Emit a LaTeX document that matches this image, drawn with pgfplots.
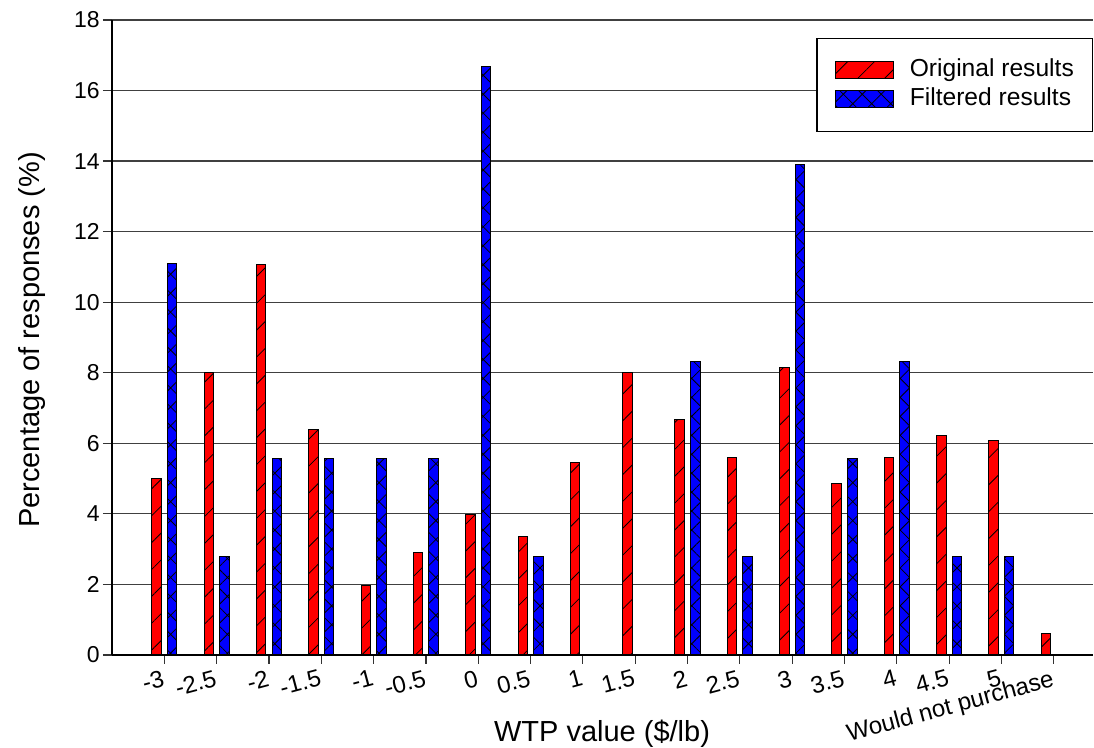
\documentclass[border=0pt]{standalone}
\usepackage{fontspec}
\setmainfont{Liberation Sans}
\usepackage{pgfplots}
\pgfplotsset{compat=1.18}
\usetikzlibrary{patterns.meta}

\definecolor{barred}{RGB}{255,0,0}
\definecolor{barblue}{RGB}{0,0,255}

\begin{document}
\begin{tikzpicture}
\useasboundingbox (-56pt,-46.5pt) rectangle (491pt,327.5pt);
\begin{axis}[
  scale only axis,
  width=490.5pt, height=317.5pt,
  ybar=3.05pt, bar width=4.75pt,
  xmin=-1, xmax=17.75,
  ymin=0, ymax=18,
  ytick={0,2,...,18},
  xtick={0,...,17},
  xticklabels={-3,-2.5,-2,-1.5,-1,-0.5,0,0.5,1,1.5,2,2.5,3,3.5,4,4.5,5,{\raisebox{-3pt}{Would not purchase}}},
  axis x line*=bottom, axis y line*=left,
  x axis line style={-, black, line width=0.8pt},
  y axis line style={-, black, line width=0.8pt},
  tick align=outside,
  major tick length=4.5pt,
  major tick style={black!80, line width=0.6pt},
  ymajorgrids,
  major grid style={black!75, line width=0.6pt},
  /pgf/number format/assume math mode=true,
  xticklabel style={rotate=15, anchor=north east, font=\fontsize{12}{14}\selectfont, inner sep=2pt},
  yticklabel style={font=\fontsize{11.5}{13}\selectfont, inner xsep=1.5pt},
  xlabel={WTP value (\$/lb)},
  ylabel={Percentage of responses (\%)},
  xlabel style={at={(axis description cs:0.4995,-0.124)}, anchor=center, font=\fontsize{14.5}{17}\selectfont},
  ylabel style={at={(axis description cs:-0.0815,0.496)}, anchor=center, font=\fontsize{14.5}{17}\selectfont},
  legend image code/.code={\draw[#1] (0pt,-4.25pt) rectangle (29pt,4.25pt);},
  legend cell align=left,
  legend style={at={(1,0.9724)}, anchor=north east, draw=black, line width=0.75pt, fill=white,
    font=\fontsize{12.3}{14}\selectfont, inner xsep=9.2pt, inner ysep=10pt,
    row sep=2.5pt, column sep=7.75pt,
    nodes={inner sep=0pt, text height=9pt, text depth=3pt}},
]
% original results
\addplot[fill=barred, draw=black, line width=0.5pt,
  postaction={pattern={Lines[angle=45,distance=9.5pt,line width=0.4pt]}}]
  coordinates {
  (0,5.00) (1,8.02) (2,11.08) (3,6.40) (4,1.98) (5,2.90) (6,3.99) (7,3.35)
  (8,5.46) (9,8.02) (10,6.67) (11,5.60) (12,8.16) (13,4.86) (14,5.60)
  (15,6.21) (16,6.07) (17,0.62)
};
% filtered results (no bar where the share is zero)
\addplot[fill=barblue, draw=black, line width=0.5pt,
  postaction={pattern={Hatch[angle=45,distance=6.7pt,line width=0.4pt]}}]
  coordinates {
  (0,11.11) (1,2.78) (2,5.56) (3,5.56) (4,5.56) (5,5.56) (6,16.67) (7,2.78)
  (10,8.33) (11,2.78) (12,13.89) (13,5.56) (14,8.33) (15,2.78) (16,2.78)
};
\legend{Original results, Filtered results}
\end{axis}
\end{tikzpicture}
\end{document}
